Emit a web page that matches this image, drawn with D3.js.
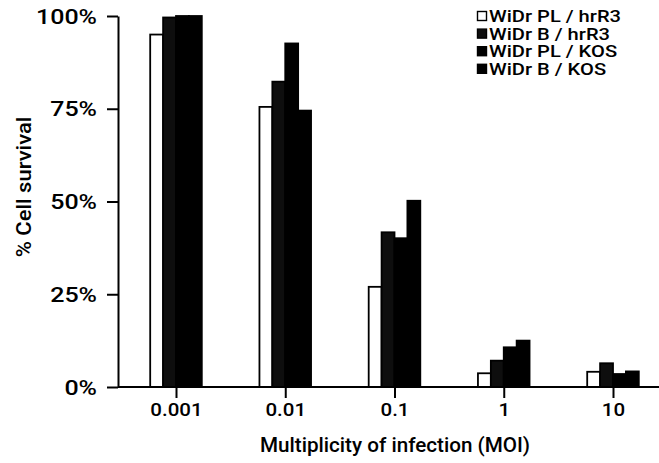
<!DOCTYPE html>
<html><head><meta charset="utf-8">
<script src="https://cdn.jsdelivr.net/npm/d3@7"></script>
<style>
body{margin:0;background:#fff}
svg text{font-family:Roboto,"Liberation Sans",Arial,sans-serif;font-weight:500;fill:#000}
</style>
</head><body><svg id="c" width="659" height="463"></svg>
<script>
const categories = ["0.001","0.01","0.1","1","10"];
const seriesNames = ["WiDr PL / hrR3","WiDr B / hrR3","WiDr PL / KOS","WiDr B / KOS"];
const plHrR3 = [95, 75.5, 27, 3.7, 4.1];
const bHrR3  = [99.6, 82.3, 41.7, 7.1, 6.4];
const plKOS  = [100, 92.6, 40.1, 10.7, 3.5];
const bKOS   = [100, 74.5, 50.2, 12.5, 4.2];
const yTicks = [0, 25, 50, 75, 100];
const yTickLabels = ["0%","25%","50%","75%","100%"];
const seriesColors = ["#ffffff","#0e0e0e","#000000","#000000"];

const series = [plHrR3, bHrR3, plKOS, bKOS];
const svg = d3.select("#c");
const W = 659, H = 463;
const axisX = 118, axisY = 387, topY = 16;

const x = d3.scalePoint().domain(categories).range([176, 613]);
const y = d3.scaleLinear().domain([0, 100]).range([axisY, topY]);
const inner = d3.scaleBand().domain(d3.range(series.length)).range([-25.8, 25.8]).padding(0);

// bars
const gBars = svg.append("g");
categories.forEach((c, ci) => {
  const g = gBars.append("g").attr("transform", `translate(${x(c)},0)`);
  series.forEach((s, si) => {
    g.append("rect")
      .attr("x", inner(si))
      .attr("width", inner.bandwidth())
      .attr("y", y(s[ci]))
      .attr("height", y(0) - y(s[ci]))
      .attr("fill", seriesColors[si])
      .attr("stroke", "#000")
      .attr("stroke-width", 1.8);
  });
});

// y axis
const syT = 1.25;
const gy = svg.append("g").attr("transform", `translate(${axisX},0)`)
  .call(d3.axisLeft(y).tickValues(yTicks).tickFormat((d, i) => yTickLabels[i]).tickSize(11).tickSizeOuter(0));
gy.select(".domain").attr("stroke-width", 2);
gy.selectAll(".tick line").attr("stroke-width", 2);
gy.selectAll(".tick text")
  .attr("x", -21 / syT).attr("dy", "0.36em")
  .attr("transform", `scale(${syT},1)`)
  .style("font-size", "20px");

// x axis
const sxT = 1.08;
const gx = svg.append("g").attr("transform", `translate(0,${axisY})`)
  .call(d3.axisBottom(x).tickSize(11).tickSizeOuter(0));
gx.select(".domain").remove();
gx.append("line").attr("x1", axisX).attr("x2", W).attr("stroke", "#000").attr("stroke-width", 2);
gx.selectAll(".tick line").attr("stroke-width", 2);
gx.selectAll(".tick text")
  .attr("y", 16).attr("dy", "0.71em")
  .attr("transform", `scale(${sxT},1)`)
  .style("font-size", "19px");
svg.selectAll(".tick text").attr("fill", "#000");

// axis titles
svg.append("text")
  .attr("transform", `translate(395,452) scale(1.06,1)`)
  .attr("text-anchor", "middle")
  .style("font-size", "19.5px")
  .text("Multiplicity of infection (MOI)");
svg.append("text")
  .attr("transform", `translate(31,187) rotate(-90) scale(1.1,1)`)
  .attr("text-anchor", "middle")
  .style("font-size", "20px")
  .text("% Cell survival");

// legend
const leg = svg.append("g").attr("transform", "translate(477,16)");
seriesNames.forEach((n, i) => {
  const r = leg.append("g").attr("transform", `translate(0,${i * 17.6})`);
  r.append("rect").attr("x", 0.5).attr("y", -4.5).attr("width", 9).attr("height", 9)
    .attr("fill", seriesColors[i]).attr("stroke", "#000").attr("stroke-width", 1.4);
  r.append("text").attr("transform", `translate(12,6) scale(1.22,1)`)
    .style("font-size", "16.5px").text(n);
});
</script>
</body></html>
